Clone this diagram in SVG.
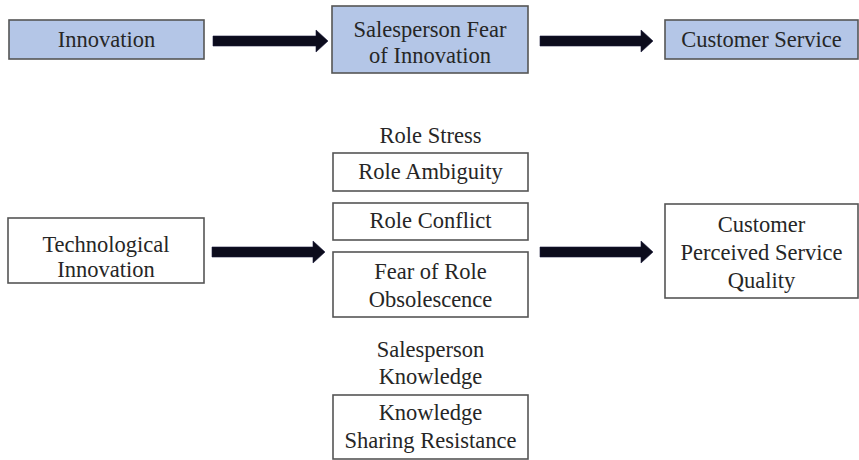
<svg xmlns="http://www.w3.org/2000/svg" width="859" height="460" viewBox="0 0 859 460">
<style>
.box{fill:#ffffff;stroke:#555555;stroke-width:1.6}
.blue{fill:#b4c6e7}
.t{font-family:"Liberation Serif","Times New Roman",serif;font-size:22.5px;fill:#262626;text-anchor:middle}
.arr{fill:#0c0c1c;stroke:#1a1a3a;stroke-width:0.6}
</style>
<rect width="859" height="460" fill="#ffffff"/>
<g id="innovation"><rect class="box blue" x="9" y="20" width="195" height="39"/><text class="t" x="106.5" y="47">Innovation</text></g>
<g id="salesperson-fear"><rect class="box blue" x="332" y="6" width="196" height="67"/><text class="t" x="430" y="37">Salesperson Fear</text><text class="t" x="430" y="63">of Innovation</text></g>
<g id="customer-service"><rect class="box blue" x="665" y="20" width="193" height="39"/><text class="t" x="761.5" y="47">Customer Service</text></g>
<g id="tech-innovation"><rect class="box" x="8" y="218" width="196" height="65"/><text class="t" x="106" y="252">Technological</text><text class="t" x="106" y="277">Innovation</text></g>
<g id="role-stress"><text class="t" x="430.5" y="143">Role Stress</text></g>
<g id="role-ambiguity"><rect class="box" x="333" y="153" width="195" height="38"/><text class="t" x="430.5" y="179">Role Ambiguity</text></g>
<g id="role-conflict"><rect class="box" x="333" y="203" width="195" height="37"/><text class="t" x="430.5" y="228">Role Conflict</text></g>
<g id="fear-obsolescence"><rect class="box" x="333" y="252" width="195" height="65"/><text class="t" x="430.5" y="279">Fear of Role</text><text class="t" x="430.5" y="307">Obsolescence</text></g>
<g id="salesperson-knowledge"><text class="t" x="430.5" y="357">Salesperson</text><text class="t" x="430.5" y="384">Knowledge</text></g>
<g id="knowledge-sharing"><rect class="box" x="333" y="395" width="195" height="64"/><text class="t" x="430.5" y="420">Knowledge</text><text class="t" x="430.5" y="448">Sharing Resistance</text></g>
<g id="customer-quality"><rect class="box" x="665" y="204" width="193" height="94"/><text class="t" x="761.5" y="232">Customer</text><text class="t" x="761.5" y="260">Perceived Service</text><text class="t" x="761.5" y="288">Quality</text></g>
<g id="connectors">
<polygon class="arr" points="213,36 316,36 316,30 328,41 316,52 316,46 213,46"/>
<polygon class="arr" points="540,36 641,36 641,30 653,41 641,52 641,46 540,46"/>
<polygon class="arr" points="212,247 313,247 313,241 325,252 313,263 313,257 212,257"/>
<polygon class="arr" points="540,247 641,247 641,241 653,252 641,263 641,257 540,257"/>
</g>
</svg>
